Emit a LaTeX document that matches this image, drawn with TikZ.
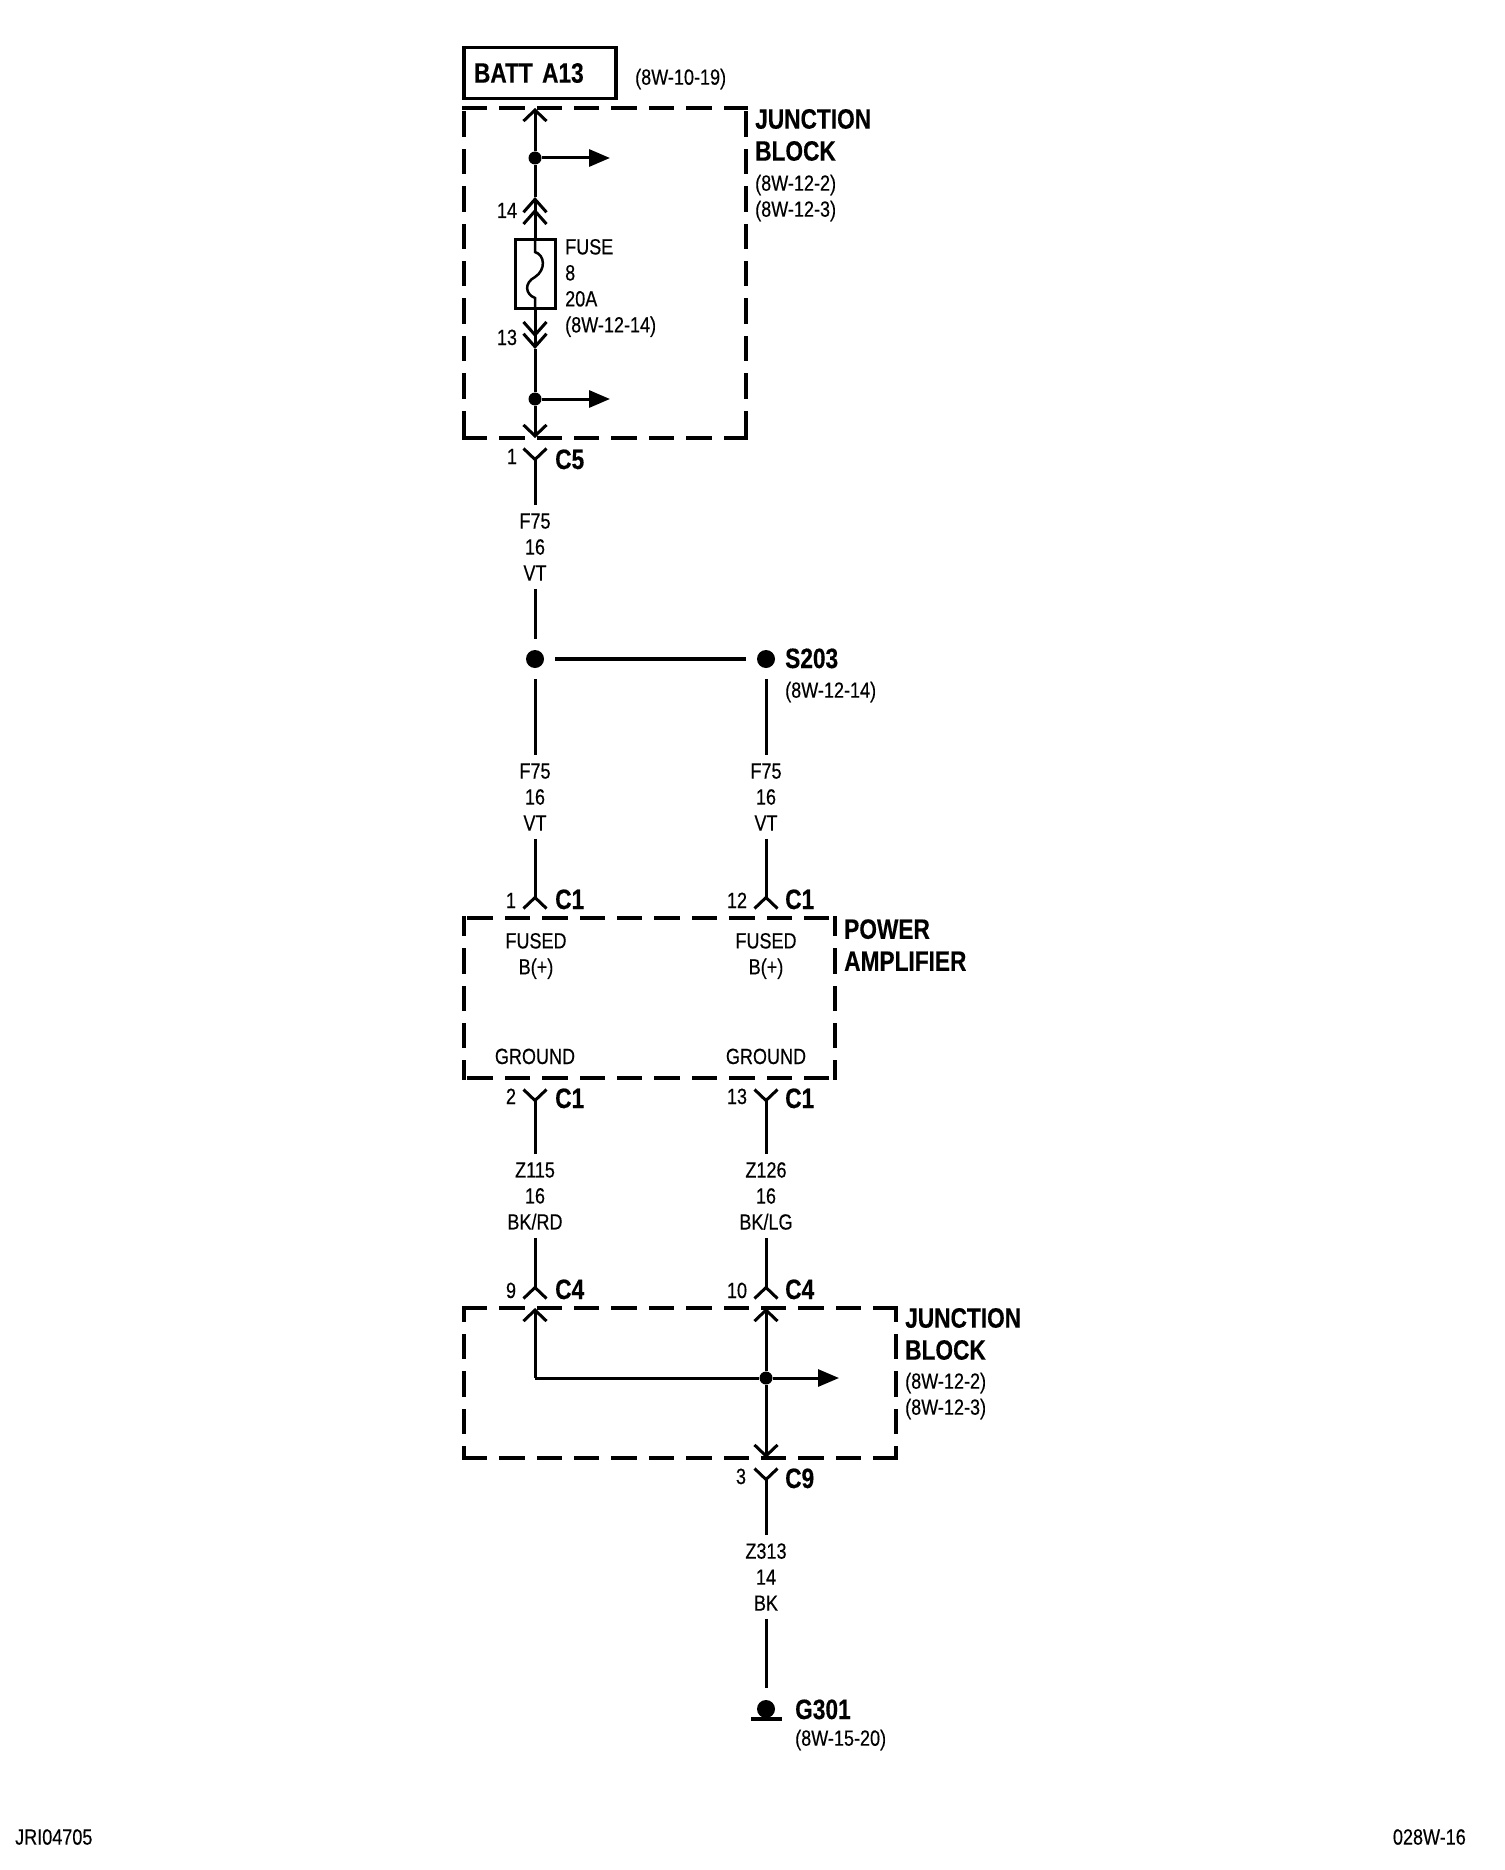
\documentclass[tikz,border=0pt]{standalone}
\usepackage{fontspec}
\usetikzlibrary{arrows.meta,positioning}
\newfontfamily\wirefamily[FakeStretch=0.82,FakeBold=0.3]{Liberation Sans}
\newfontfamily\namefamily[FakeStretch=0.81,FakeBold=0.3,WordSpace=0.5]{Liberation Sans Bold}
\newcommand{\wirefont}{\wirefamily\fontsize{22}{26}\selectfont}
\newcommand{\namefont}{\namefamily\fontsize{28}{32}\selectfont}

\begin{document}
\begin{tikzpicture}[x=1pt,y=-1pt,
    wire/.style={line width=3pt},
    blocktip/.style={-{Straight Barb[length=11pt,width=23pt]}},
    pintip/.style={-{Straight Barb[reversed,length=11pt,width=23pt]}},
    doubletip/.style={-{Straight Barb[length=13pt,width=23pt,sep=-5pt]Straight Barb[length=13pt,width=23pt]}},
    outtip/.style={-{Triangle[length=21pt,width=17pt]}},
    dashbox/.style={line width=4.5pt,line cap=rect,dash pattern=on 21pt off 16.4pt,dash phase=#1},
    joint/.style={circle,fill=black,inner sep=0pt,minimum size=13pt},
    splice/.style={circle,fill=black,inner sep=0pt,minimum size=18pt,outer sep=11pt},
    wirelabel/.style={font=\wirefont,align=center,inner xsep=0pt,inner ysep=8pt},
    reflabel/.style={font=\wirefont,align=left,inner sep=0pt,anchor=west},
    pinlabel/.style={font=\wirefont,inner sep=0pt,text height=16pt,text depth=0pt},
    namelabel/.style={font=\namefont,align=left,inner sep=0pt,anchor=west,text height=20pt,text depth=0pt},
    namemulti/.style={font=\namefont,align=left,inner sep=0pt,anchor=west}]

  \useasboundingbox (0,0) rectangle (1504,1870);

  \node[draw,line width=3.5pt,font=\namefont,text width=132pt,inner xsep=10pt,minimum height=51pt,align=left] (batt) at (540,73) {BATT A13};
  \node[reflabel] (battref) at (635,79) {(8W-10-19)};

  \coordinate (ta) at (464,108);
  \coordinate (tb) at (746,108);
  \coordinate (tc) at (464,438);
  \coordinate (td) at (746,438);
  \path (ta) edge[dashbox=0] (tb)
        (tc) edge[dashbox=0] (td)
        (ta) edge[dashbox=31.8] (tc)
        (tb) edge[dashbox=31.8] (td);
  \node[namemulti] (topname) at (755,135) {JUNCTION\\BLOCK};
  \node[reflabel] (topref) at (755,198) {(8W-12-2)\\(8W-12-3)};

  \coordinate (battin) at (535,108);
  \node[joint] (j1) at (535,158) {};
  \coordinate (j1out) at (610,158);
  \coordinate (pin14) at (535,197);
  \node[pinlabel] (n14) at (507,210) {14};
  \node[draw,line width=3pt,minimum width=40pt,minimum height=69pt,inner sep=0pt] (fuse) at (535,274) {};
  \node[reflabel] (fuselabel) at (565,288) {FUSE\\8\\20A\\(8W-12-14)};
  \coordinate (pin13) at (535,349);
  \node[pinlabel] (n13) at (507,337) {13};
  \node[joint] (j2) at (535,399) {};
  \coordinate (j2out) at (610,399);
  \coordinate (c5in) at (535,438);
  \coordinate (c5pin) at (535,447);
  \node[pinlabel] (n1c5) at (512,456) {1};
  \node[namelabel] (c5) at (555,459) {C5};

  \path[wire]
        (j1) edge[blocktip] (battin)
        (j1) edge[outtip] (j1out)
        (j1) edge (pin14)
        (fuse.north) edge[doubletip] (pin14)
        (fuse.south) edge[doubletip] (pin13)
        (pin13) edge (j2)
        (j2) edge[outtip] (j2out)
        (j2) edge[blocktip] (c5in);
  \draw[line width=2.5pt] (fuse.north) -- (535,252) .. controls (545,255) and (546,270) .. (535,277)
        .. controls (524,283) and (525,294) .. (535,298) -- (fuse.south);

  \node[wirelabel] (f75a) at (535,547) {F75\\16\\VT};
  \node[splice] (s1) at (535,659) {};
  \node[splice] (s2) at (766,659) {};
  \node[namelabel] (s203) at (785,658) {S203};
  \node[reflabel] (s203ref) at (785,692) {(8W-12-14)};
  \node[wirelabel] (f75b) at (535,797) {F75\\16\\VT};
  \node[wirelabel] (f75c) at (766,797) {F75\\16\\VT};

  \coordinate (c1apin) at (535,910);
  \coordinate (c1bpin) at (766,910);
  \node[pinlabel] (n1) at (511,900) {1};
  \node[namelabel] (c1a) at (555,899) {C1};
  \node[pinlabel] (n12) at (737,900) {12};
  \node[namelabel] (c1b) at (785,899) {C1};

  \path[wire]
        (f75a.north) edge[pintip] (c5pin)
        (f75a.south) edge (s1)
        (s1) edge[line width=4pt] (s2)
        (s1) edge (f75b.north)
        (s2) edge (f75c.north)
        (f75b.south) edge[pintip] (c1apin)
        (f75c.south) edge[pintip] (c1bpin);

  \coordinate (pa) at (464,918);
  \coordinate (pb) at (835,918);
  \coordinate (pc) at (464,1078);
  \coordinate (pd) at (835,1078);
  \path (pa) edge[dashbox=31.8] (pb)
        (pc) edge[dashbox=31.8] (pd)
        (pa) edge[dashbox=5] (pc)
        (pb) edge[dashbox=5] (pd);
  \node[namemulti] (ampname) at (844,945) {POWER\\AMPLIFIER};
  \node[wirelabel,inner ysep=0pt] (fuseda) at (536,956) {FUSED\\B(+)};
  \node[wirelabel,inner ysep=0pt] (fusedb) at (766,956) {FUSED\\B(+)};
  \node[pinlabel] (grounda) at (535,1056) {GROUND};
  \node[pinlabel] (groundb) at (766,1056) {GROUND};

  \coordinate (c1cpin) at (535,1088);
  \coordinate (c1dpin) at (766,1088);
  \node[pinlabel] (n2) at (511,1096) {2};
  \node[namelabel] (c1c) at (555,1098) {C1};
  \node[pinlabel] (n13b) at (737,1096) {13};
  \node[namelabel] (c1d) at (785,1098) {C1};
  \node[wirelabel] (z115) at (535,1196) {Z115\\16\\BK/RD};
  \node[wirelabel] (z126) at (766,1196) {Z126\\16\\BK/LG};
  \coordinate (c4apin) at (535,1300);
  \coordinate (c4bpin) at (766,1300);
  \node[pinlabel] (n9) at (511,1290) {9};
  \node[namelabel] (c4a) at (555,1289) {C4};
  \node[pinlabel] (n10) at (737,1290) {10};
  \node[namelabel] (c4b) at (785,1289) {C4};

  \path[wire]
        (z115.north) edge[pintip] (c1cpin)
        (z126.north) edge[pintip] (c1dpin)
        (z115.south) edge[pintip] (c4apin)
        (z126.south) edge[pintip] (c4bpin);

  \coordinate (ja) at (464,1308);
  \coordinate (jb) at (896,1308);
  \coordinate (jc) at (464,1458);
  \coordinate (jd) at (896,1458);
  \path (ja) edge[dashbox=0] (jb)
        (jc) edge[dashbox=0] (jd)
        (ja) edge[dashbox=9.4] (jc)
        (jb) edge[dashbox=9.4] (jd);
  \node[namemulti] (lowname) at (905,1334) {JUNCTION\\BLOCK};
  \node[reflabel] (lowref) at (905,1396) {(8W-12-2)\\(8W-12-3)};

  \coordinate (c4ain) at (535,1308);
  \coordinate (c4bin) at (766,1308);
  \coordinate (bend) at (535,1378);
  \node[joint] (j3) at (766,1378) {};
  \coordinate (j3out) at (839,1378);
  \coordinate (c9in) at (766,1458);
  \coordinate (c9pin) at (766,1467);
  \node[pinlabel] (n3) at (741,1476) {3};
  \node[namelabel] (c9) at (785,1478) {C9};
  \node[wirelabel] (z313) at (766,1577) {Z313\\14\\BK};
  \node[circle,fill=black,inner sep=0pt,minimum size=18pt,outer sep=12pt] (g301dot) at (766,1709) {};
  \node[fill=black,inner sep=0pt,minimum width=31pt,minimum height=4pt] (g301bar) at (766,1719) {};
  \node[namelabel] (g301) at (795,1709) {G301};
  \node[reflabel] (g301ref) at (795,1740) {(8W-15-20)};

  \path[wire]
        (bend) edge[blocktip] (c4ain)
        (bend) edge (j3)
        (j3) edge[blocktip] (c4bin)
        (j3) edge[outtip] (j3out)
        (j3) edge[blocktip] (c9in)
        (z313.north) edge[pintip] (c9pin)
        (z313.south) edge (g301dot);

  \node[reflabel] (jobno) at (15,1837) {JRI04705};
  \node[reflabel,anchor=east] (pageno) at (1466,1837) {028W-16};

\end{tikzpicture}
\end{document}
